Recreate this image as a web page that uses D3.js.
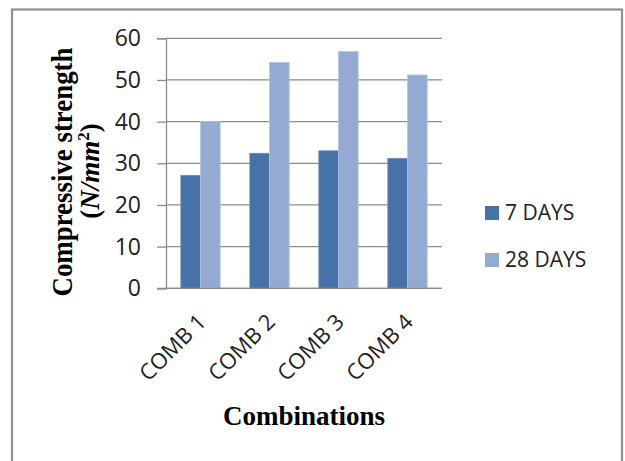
<!DOCTYPE html>
<html>
<head>
<meta charset="utf-8">
<script src="https://cdn.jsdelivr.net/npm/d3@7"></script>
<style>
  html, body { margin: 0; padding: 0; background: #fff; }
  svg { display: block; }
</style>
</head>
<body>
<svg id="chart" width="625" height="461"></svg>
<script>
const categories = ["COMB 1", "COMB 2", "COMB 3", "COMB 4"];
const seriesNames = ["7 DAYS", "28 DAYS"];
const days7 = [27.1, 32.4, 33.0, 31.2];
const days28 = [40.0, 54.2, 56.8, 51.2];
const yTicks = [0, 10, 20, 30, 40, 50, 60];
const colors = ["#4672A8", "#94AAD2"];

const svg = d3.select("#chart");

// outer frame
svg.append("rect")
  .attr("x", 12).attr("y", 9.5).attr("width", 610).attr("height", 470)
  .attr("fill", "#fff").attr("stroke", "#8f8f8f").attr("stroke-width", 2.2);

const pLeft = 166, pRight = 442, pTop = 38.3, pBottom = 288.3;

const x = d3.scaleBand().domain(categories).range([pLeft, pRight])
  .paddingInner(0.43).paddingOuter(0.215);
const xs = d3.scaleBand().domain(seriesNames).range([0, x.bandwidth()]);
const y = d3.scaleLinear().domain([0, 60]).range([pBottom, pTop]);

// gridlines
svg.append("g").selectAll("line").data(yTicks).join("line")
  .attr("x1", pLeft).attr("x2", pRight)
  .attr("y1", d => y(d)).attr("y2", d => y(d))
  .attr("stroke", "#8c8c8c").attr("stroke-width", 1.3);

// bars
const series = [days7, days28];
const g = svg.append("g");
series.forEach((vals, si) => {
  g.selectAll(null).data(vals).join("rect")
    .attr("x", (d, i) => x(categories[i]) + xs(seriesNames[si]))
    .attr("y", d => y(d))
    .attr("width", xs.bandwidth())
    .attr("height", d => y(0) - y(d))
    .attr("fill", colors[si])
    .attr("stroke", si === 0 ? "#6a8cba" : "#b4c4e0")
    .attr("stroke-width", 0.8);
});

// y axis
const yAxis = d3.axisLeft(y).tickValues(yTicks).tickSize(9).tickPadding(16);
const ya = svg.append("g").attr("transform", `translate(${pLeft},0)`).call(yAxis);
ya.select(".domain").attr("stroke", "#8c8c8c").attr("stroke-width", 1.3);
ya.selectAll(".tick line").attr("stroke", "#8c8c8c").attr("stroke-width", 1.3);
ya.selectAll(".tick text")
  .attr("font-family", "'Open Sans', sans-serif").attr("font-size", 23)
  .attr("fill", "#222");

// x axis line
svg.append("line").attr("x1", pLeft - 9).attr("x2", pRight)
  .attr("y1", pBottom).attr("y2", pBottom)
  .attr("stroke", "#8c8c8c").attr("stroke-width", 1.3);

// x labels
svg.append("g").selectAll("text").data(categories).join("text")
  .attr("transform", d => `translate(${x(d) + x.bandwidth() / 2 + 7},${pBottom + 35}) rotate(-45)`)
  .attr("text-anchor", "end")
  .attr("font-family", "'Open Sans', sans-serif").attr("font-size", 22)
  .attr("fill", "#222")
  .text(d => d);

// x title
svg.append("text")
  .attr("x", 304).attr("y", 425)
  .attr("text-anchor", "middle")
  .attr("font-family", "'Liberation Serif', 'Times New Roman', serif")
  .attr("font-weight", "bold").attr("font-size", 27)
  .attr("textLength", 162).attr("lengthAdjust", "spacingAndGlyphs")
  .text("Combinations");

// y title
svg.append("text")
  .attr("transform", "translate(71.5,172) rotate(-90)")
  .attr("text-anchor", "middle")
  .attr("font-family", "'Liberation Serif', 'Times New Roman', serif")
  .attr("font-weight", "bold").attr("font-size", 29)
  .attr("textLength", 249).attr("lengthAdjust", "spacingAndGlyphs")
  .text("Compressive strength");

const t2 = svg.append("text")
  .attr("transform", "translate(99,171) rotate(-90)")
  .attr("text-anchor", "middle")
  .attr("font-family", "'Liberation Serif', 'Times New Roman', serif")
  .attr("font-weight", "bold").attr("font-size", 27);
t2.append("tspan").text("(");
t2.append("tspan").attr("font-style", "italic").text("N/mm");
t2.append("tspan").attr("font-size", 17).attr("dy", -10).text("2");
t2.append("tspan").attr("dy", 10).text(")");

// legend
const legY = [206, 253];
const leg = svg.append("g");
seriesNames.forEach((name, i) => {
  leg.append("rect").attr("x", 485).attr("y", legY[i])
    .attr("width", 14).attr("height", 14).attr("fill", colors[i]);
  leg.append("text").attr("x", 505).attr("y", legY[i] + 14)
    .attr("font-family", "'Open Sans', sans-serif").attr("font-size", 21)
    .attr("fill", "#222").text(name);
});
</script>
</body>
</html>
